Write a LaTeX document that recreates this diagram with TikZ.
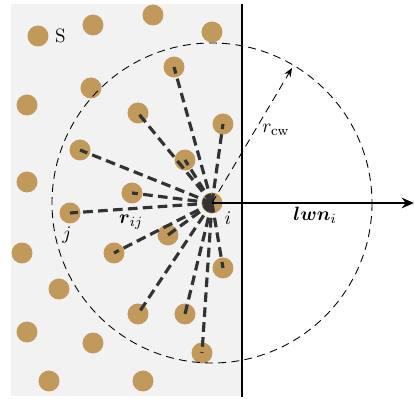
\documentclass[tikz,border=0pt]{standalone}
\usepackage{amsmath}
\usepackage{amsfonts}
\usepackage{tikz}
\usetikzlibrary{shapes,arrows,arrows.meta,positioning,calc}

\definecolor{grain}{RGB}{193,154,91}
\definecolor{wallgray}{RGB}{242,242,242}
\definecolor{bondgray}{RGB}{51,51,51}

\begin{document}
\begin{tikzpicture}[
    x=0.02cm, y=-0.02cm,
    particle/.style={circle, fill=grain, minimum size=21*0.02cm, inner sep=0pt},
    bond/.style={draw=bondgray, line width=1.8pt, dash pattern=on 5.5pt off 3pt},
    cutoff/.style={draw=black, line width=0.5pt, dash pattern=on 4.5pt off 3pt},
    lab/.style={font=\fontsize{11pt}{13pt}\selectfont},
    arrow/.style={-{Stealth[length=5pt,width=4pt]}}
]
    \useasboundingbox (0,0) rectangle (414,399);
    \fill[wallgray] (11,4) rectangle (242,396);

    % particles outside the cutoff
    \node[particle] (s1) at (38,36) {};
    \node[particle] (s2) at (93,25) {};
    \node[particle] (s3) at (153,15) {};
    \node[particle] (s4) at (212,32) {};
    \node[particle] (s5) at (27,105) {};
    \node[particle] (s6) at (91,88) {};
    \node[particle] (s7) at (27,182) {};
    \node[particle] (s8) at (22,253) {};
    \node[particle] (s9) at (59,289) {};
    \node[particle] (s10) at (27,332) {};
    \node[particle] (s11) at (93,343) {};
    \node[particle] (s12) at (49,381) {};
    \node[particle] (s13) at (143,381) {};

    % neighbours of i
    \node[particle] (n1) at (174,67) {};
    \node[particle] (n2) at (138,113) {};
    \node[particle] (n3) at (223,124) {};
    \node[particle] (n4) at (80,150) {};
    \node[particle] (n5) at (185,160) {};
    \node[particle] (n6) at (132,193) {};
    \node[particle] (pj) at (70,213) {};
    \node[particle] (n7) at (168,235) {};
    \node[particle] (n8) at (114,253) {};
    \node[particle] (n9) at (223,268) {};
    \node[particle] (n10) at (138,314) {};
    \node[particle] (n11) at (185,314) {};
    \node[particle] (n12) at (202,353) {};
    \node[particle] (pi) at (212,203) {};

    \draw[line width=1.1pt] (242,4) -- (242,397);

    \foreach \n in {n1,n2,n3,n4,n5,n6,pj,n7,n8,n9,n10,n11,n12}
        \draw[bond] (pi.center) -- (\n.center);

    \draw[cutoff] (pi.center) circle (160);
    \coordinate (rc) at (292,68);
    \draw[cutoff, arrow] (pi.center) -- (rc);

    \coordinate (lwnend) at (414,203);
    \draw[-{Stealth[length=7pt,width=6pt]}, line width=1.3pt] (pi.center) -- (lwnend);

    \node[lab, right=0pt of s1] (slab) {S};
    \node[lab] (ilab) at (228,218) {$i$};
    \node[lab] (jlab) at (67,235) {$j$};
    \node[lab] (rijlab) at (131,222) {$\boldsymbol{r}_{ij}$};
    \node[lab] (rcwlab) at (276,130) {$r_{\mathrm{cw}}$};
    \node[lab] (lwnlab) at (315,215) {$\boldsymbol{lwn}_i$};
\end{tikzpicture}
\end{document}
